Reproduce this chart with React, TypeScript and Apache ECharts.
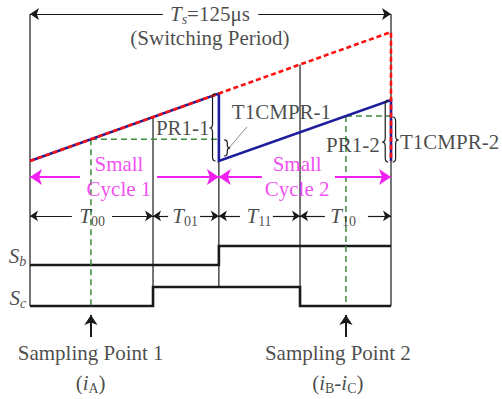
import React, { useEffect, useRef } from "react";
import * as echarts from "echarts";

// ---------------- data (time in µs, counter in % of the Ts ramp peak) ----------------
const switchingPeriod = 125; // Ts = 125 µs
const boundaryTimes = [0, 42.6, 65.4, 93.5, 125]; // T00 | T01 | T11 | T10
const intervalNames = ["00", "01", "11", "10"];
const smallCycleBounds = [0, 65.4, 125];

// carrier (red dashed) over the whole switching period
const carrierT = [0, 125, 125];
const carrierV = [0, 100, 0];
// small-cycle counters (blue)
const cycleT = [0, 65.4, 65.4, 125, 125];
const cycleV = [0, 52.3, 0, 47.3, 0];

// sampling points
const samplingT = [21.1, 109.4];
const samplingV = [16.9, 34.9];
const samplingNames = ["Sampling Point 1", "Sampling Point 2"];

// switching states
const sbT = [0, 65.4, 65.4, 125];
const sbState = [0, 0, 1, 1];
const scT = [0, 42.6, 42.6, 93.5, 93.5, 125];
const scState = [0, 0, 1, 1, 0, 0];

// vertical guides
const guideT = [0, 42.6, 65.4, 93.5, 125];
const guideTop = [114, 34.1, 0, 74.8, 114];
const guideBottom = [-112.4, -97.7, -97.7, -97.7, -112.4];

// braces: [t, top, bottom, tip, dir(-1 "{", +1 "}")]
const braces = [
  [63.2, 52.3, 0, 25.6, -1],
  [68.3, 16.3, 4.0, 10.1, 1],
  [123.0, 47.3, -0.8, 14.7, -1],
  [126.6, 34.1, -0.8, 16.3, 1],
];

// ---------------- layout ----------------
const W = 502;
const H = 399;
const ORIGIN_X = 30;
const ORIGIN_Y = 161;
const PX_PER_US = 361 / switchingPeriod;
const PX_PER_UNIT = 1.29;

const SB_BASE = -80.6;
const SC_BASE = -112.4;
const STATE_H = 14.7;
const PERIOD_ARROW_V = 114;
const CYCLE_ARROW_V = -12.4;
const INTERVAL_ARROW_V = -42.6;
const intervalGaps = [
  [14.5, 28.4],
  [47.8, 58.9],
  [72.7, 84.1],
  [102.1, 117.0],
];
const cycleGaps = [
  [17.3, 44.0],
  [80.3, 105.6],
];
const periodGap = [46, 79];
const intervalLabelT = [21.5, 53.7, 79.3, 108.4];
const cycleLabelT = [30.8, 92.5];

const FONT = "'Liberation Serif', 'Times New Roman', serif";
const BLACK = "#1a1a1a";
const MAGENTA = "#f020f0";

export default function App() {
  const ref = useRef<HTMLDivElement>(null);

  useEffect(() => {
    const chart = echarts.init(ref.current!, null, { renderer: "svg" });

    const xMin = -ORIGIN_X / PX_PER_US;
    const xMax = (W - ORIGIN_X) / PX_PER_US;
    const yMax = ORIGIN_Y / PX_PER_UNIT;
    const yMin = -(H - ORIGIN_Y) / PX_PER_UNIT;

    const zip = (t: number[], v: number[]) => t.map((x, i) => [x, v[i]]);

    const poly = (data: any[], lineStyle: any, z = 2) => ({
      type: "lines",
      coordinateSystem: "cartesian2d",
      polyline: true,
      silent: true,
      z,
      symbol: ["none", "none"],
      lineStyle: { opacity: 1, curveness: 0, ...lineStyle },
      data,
    });
    const arrows = (data: any[], color: string, width: number, size: number, z = 3) => ({
      type: "lines",
      coordinateSystem: "cartesian2d",
      polyline: false,
      silent: true,
      z,
      symbol: ["none", "arrow"],
      symbolSize: size,
      lineStyle: { color, width, opacity: 1, curveness: 0 },
      data,
    });

    // thin guides
    const guideData = guideT.map((t, i) => ({ coords: [[t, guideTop[i]], [t, guideBottom[i]]] }));

    // switching waveforms
    const sbData = [{ coords: zip(sbT, sbState.map((s) => SB_BASE + s * STATE_H)) }];
    const scData = [{ coords: zip(scT, scState.map((s) => SC_BASE + s * STATE_H)) }];

    // green dashed sampling guides
    const greenData: any[] = [];
    samplingT.forEach((t, i) => {
      const endT = i === 0 ? smallCycleBounds[1] : smallCycleBounds[2];
      greenData.push({ coords: [[t, samplingV[i]], [endT, samplingV[i]]] });
      greenData.push({ coords: [[t, samplingV[i]], [t, SC_BASE]] });
    });

    // arrows
    const periodArrows = [
      { coords: [[periodGap[0], PERIOD_ARROW_V], [0, PERIOD_ARROW_V]] },
      { coords: [[periodGap[1], PERIOD_ARROW_V], [switchingPeriod, PERIOD_ARROW_V]] },
    ];
    const intervalArrows: any[] = [];
    intervalGaps.forEach((g, i) => {
      intervalArrows.push({ coords: [[g[0], INTERVAL_ARROW_V], [boundaryTimes[i], INTERVAL_ARROW_V]] });
      intervalArrows.push({ coords: [[g[1], INTERVAL_ARROW_V], [boundaryTimes[i + 1], INTERVAL_ARROW_V]] });
    });
    const cycleArrows: any[] = [];
    cycleGaps.forEach((g, i) => {
      cycleArrows.push({ coords: [[g[0], CYCLE_ARROW_V], [smallCycleBounds[i], CYCLE_ARROW_V]] });
      cycleArrows.push({ coords: [[g[1], CYCLE_ARROW_V], [smallCycleBounds[i + 1], CYCLE_ARROW_V]] });
    });
    const samplingArrows = samplingT.map((t) => ({ coords: [[t, -136.4], [t, -119.4]] }));

    const rich = (color: string) => ({
      it: { fontFamily: FONT, fontSize: 21, fontStyle: "italic", color },
      n: { fontFamily: FONT, fontSize: 21, color },
      sub: { fontFamily: FONT, fontSize: 14, color, padding: [11, 0, 0, 0] },
      isub: { fontFamily: FONT, fontSize: 14, fontStyle: "italic", color, padding: [11, 0, 0, 0] },
    });

    type Txt = { t: number; v: number; text: string; align?: string; color?: string };
    const texts: Txt[] = [
      { t: 62.3, v: 114.0, text: "{it|T}{isub|s}{n|=125μs}" },
      { t: 62.3, v: 95.0, text: "{n|(Switching Period)}" },
      { t: 43.6, v: 25.6, text: "{n|PR1-1}", align: "left" },
      { t: 69.9, v: 38, text: "{n|T1CMPR-1}", align: "left" },
      { t: 102.5, v: 12.4, text: "{n|PR1-2}", align: "left" },
      { t: 128.1, v: 14.7, text: "{n|T1CMPR-2}", align: "left" },
      { t: -1.3, v: -73.6, text: "{it|S}{isub|b}", align: "right" },
      { t: -1.3, v: -106.2, text: "{it|S}{isub|c}", align: "right" },
      { t: samplingT[0] - 0.1, v: -148.8, text: "{n|" + samplingNames[0] + "}" },
      { t: samplingT[0] - 0.1, v: -172.1, text: "{n|(}{it|i}{sub|A}{n|)}" },
      { t: 106.6, v: -148.8, text: "{n|" + samplingNames[1] + "}" },
      { t: 106.6, v: -172.1, text: "{n|(}{it|i}{sub|B}{n|-}{it|i}{sub|C}{n|)}" },
    ];
    intervalNames.forEach((nm, i) => {
      texts.push({ t: intervalLabelT[i], v: INTERVAL_ARROW_V, text: "{it|T}{sub|" + nm + "}" });
    });
    cycleLabelT.forEach((t, i) => {
      texts.push({ t, v: -2.3, text: "{n|Small}", color: MAGENTA });
      texts.push({ t, v: -21.7, text: "{n|Cycle " + (i + 1) + "}", color: MAGENTA });
    });

    const textData = texts.map((d) => ({
      value: [d.t, d.v],
      label: {
        show: true,
        position: "inside",
        align: d.align || "center",
        verticalAlign: "middle",
        formatter: () => d.text,
        color: d.color || BLACK,
        fontFamily: FONT,
        textBorderWidth: 0,
        rich: rich(d.color || BLACK),
      },
    }));

    const option: any = {
      animation: false,
      textStyle: { fontFamily: FONT },
      grid: { left: 0, right: 0, top: 0, bottom: 0, containLabel: false },
      xAxis: { type: "value", min: xMin, max: xMax, show: false, splitLine: { show: false } },
      yAxis: { type: "value", min: yMin, max: yMax, show: false, splitLine: { show: false } },
      series: [
        poly(guideData, { color: BLACK, width: 1.2 }, 1),
        poly(
          [{ coords: [[68.9, 10.1], [75.1, 26.4]] }],
          { color: "#8a8a8a", width: 1 },
          1
        ),
        poly(sbData, { color: BLACK, width: 2.6 }, 2),
        poly(scData, { color: BLACK, width: 2.6 }, 2),
        poly(greenData, { color: "#3c8c3c", width: 1.5, type: [6, 4] }, 3),
        poly([{ coords: zip(cycleT, cycleV) }], { color: "#1c1c9c", width: 2.6 }, 4),
        poly([{ coords: zip(carrierT, carrierV) }], { color: "#ff1010", width: 2.6, type: [5, 3] }, 5),
        arrows(periodArrows, BLACK, 1.2, 9),
        arrows(intervalArrows, BLACK, 1.2, 8),
        arrows(cycleArrows, MAGENTA, 2, 12),
        arrows(samplingArrows, BLACK, 2, 10),
        {
          type: "custom",
          coordinateSystem: "cartesian2d",
          silent: true,
          clip: false,
          z: 6,
          encode: { x: 0, y: 1 },
          data: braces,
          renderItem: (_p: any, api: any) => {
            const t = api.value(0);
            const top = api.coord([t, api.value(1)]);
            const bot = api.coord([t, api.value(2)]);
            const tip = api.coord([t, api.value(3)]);
            const dir = api.value(4);
            const a = top[0];
            const h = 3;
            const r = Math.min(4, (bot[1] - top[1]) / 5);
            const y1 = top[1];
            const y2 = bot[1];
            const ym = tip[1];
            const ex = a - dir * h;
            const tx = a + dir * h;
            const d =
              `M${ex} ${y1} Q${a} ${y1} ${a} ${y1 + r} L${a} ${ym - r} Q${a} ${ym} ${tx} ${ym} ` +
              `Q${a} ${ym} ${a} ${ym + r} L${a} ${y2 - r} Q${a} ${y2} ${ex} ${y2}`;
            return {
              type: "path",
              shape: { pathData: d },
              style: { fill: "none", stroke: BLACK, lineWidth: 1.2 },
            };
          },
        },
        {
          type: "scatter",
          silent: true,
          symbolSize: 0,
          z: 10,
          itemStyle: { color: "transparent" },
          data: textData,
        },
      ],
    };

    chart.setOption(option);
    return () => chart.dispose();
  }, []);

  return (
    <div
      ref={ref}
      style={{ position: "absolute", left: 0, top: 0, width: W, height: H, background: "#fff" }}
    />
  );
}
